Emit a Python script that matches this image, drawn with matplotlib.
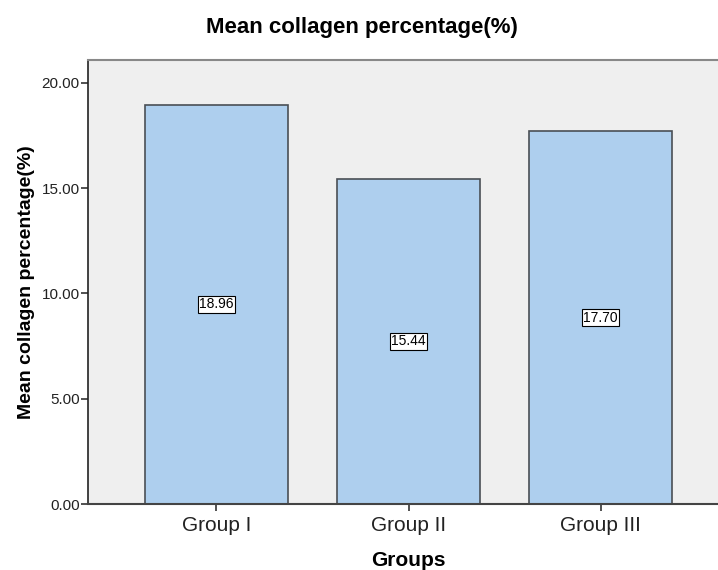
import matplotlib.pyplot as plt

plt.rcParams['font.family'] = ['Liberation Sans', 'DejaVu Sans']

groups = ["Group I", "Group II", "Group III"]
means = [18.96, 15.44, 17.70]
yticks = [0, 5, 10, 15, 20]

fig = plt.figure(figsize=(7.18, 5.7), dpi=100)
ax = fig.add_axes([88 / 718, 66 / 570, 641 / 718, 444 / 570])
ax.set_facecolor("#efefef")

x = range(len(groups))
ax.bar(x, means, width=0.745, color="#aecfee", edgecolor="#4a4f55", linewidth=1.2, zorder=2)
for xi, m in zip(x, means):
    ax.text(xi, m / 2, "%.2f" % m, ha="center", va="center", fontsize=10, zorder=3,
            bbox=dict(boxstyle="square,pad=0.1", facecolor="white", edgecolor="black", linewidth=0.8))

ax.set_xlim(-0.669, 2.669)
ax.set_ylim(0, 21.09)
ax.set_xticks(list(x))
ax.set_xticklabels(groups, fontsize=15, color="#222222")
ax.set_yticks(yticks)
ax.set_yticklabels(["%.2f" % t for t in yticks], fontsize=11, color="#222222")
ax.tick_params(axis="both", direction="out", length=5, width=1.2, color="#333333")
ax.tick_params(axis="y", pad=1)

ax.spines["right"].set_visible(False)
ax.spines["top"].set_color("#888888")
ax.spines["top"].set_linewidth(1.5)
ax.spines["left"].set_color("#222222")
ax.spines["bottom"].set_color("#444444")
ax.spines["left"].set_linewidth(1.2)
ax.spines["bottom"].set_linewidth(1.5)

ax.set_xlabel("Groups", fontsize=15, fontweight="bold", labelpad=12)
ax.set_ylabel("Mean collagen percentage(%)", fontsize=14, fontweight="bold", labelpad=5)
fig.text(362 / 718, 1 - 27 / 570, "Mean collagen percentage(%)", ha="center", va="center",
         fontsize=16, fontweight="bold")

fig.savefig("out.png", dpi=100)
